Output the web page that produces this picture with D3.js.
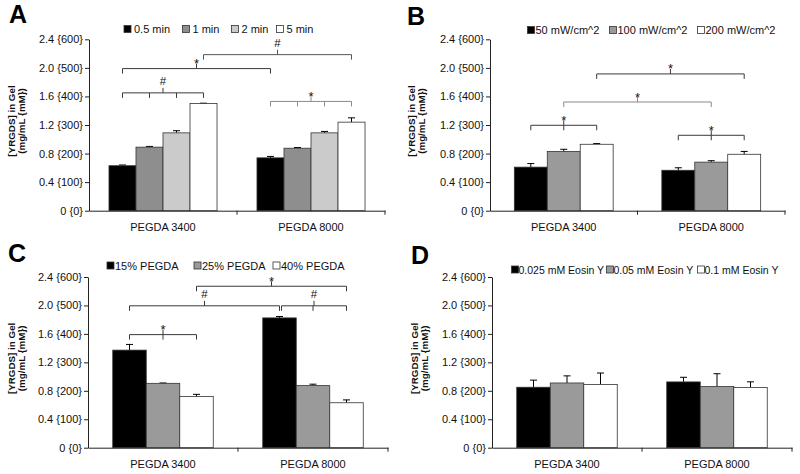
<!DOCTYPE html>
<html><head><meta charset="utf-8">
<script src="https://cdn.jsdelivr.net/npm/d3@7"></script>
<style>
html,body{margin:0;padding:0;background:#fff;}
svg{display:block;font-family:"Liberation Sans",Arial,sans-serif;}
</style></head>
<body>
<svg id="chart" width="800" height="474"></svg>
<script>
// ---------- DATA ----------
const categories = ["PEGDA 3400", "PEGDA 8000"];
const yTicks = [0, 0.4, 0.8, 1.2, 1.6, 2.0, 2.4];
const yTickLabels = ["0 {0}", "0.4 {100}", "0.8 {200}", "1.2 {300}", "1.6 {400}", "2.0 {500}", "2.4 {600}"];
const yTitle1 = "[YRGDS] in Gel";
const yTitle2 = "(mg/mL {mM})";

// Panel A: exposure time
const seriesA = ["0.5 min", "1 min", "2 min", "5 min"];
const valuesA = [[0.63, 0.74], [0.89, 0.875], [1.09, 1.09], [1.50, 1.24]];
const errorsA = [[0.01, 0.02], [0.01, 0.01], [0.03, 0.02], [0.005, 0.06]];
const bracketsA = [
  {label: "#", level: 1.65, ticks: [[0,0],[0,1],[0,2],[0,3]], tone: "dark"},
  {label: "*", level: 1.99, ticks: [[0,0],[1,0]], tone: "dark"},
  {label: "#", level: 2.185, ticks: [[0,3],[1,3]], tone: "mid"},
  {label: "*", level: 1.53, ticks: [[1,0],[1,1],[1,2],[1,3]], tone: "light"}
];

// Panel B: light intensity
const seriesB = ["50 mW/cm^2", "100 mW/cm^2", "200 mW/cm^2"];
const valuesB = [[0.61, 0.566], [0.83, 0.68], [0.93, 0.79]];
const errorsB = [[0.05, 0.035], [0.03, 0.02], [0.01, 0.04]];
const bracketsB = [
  {label: "*", level: 1.196, ticks: [[0,0],[0,1],[0,2]], tone: "dark"},
  {label: "*", level: 1.522, ticks: [[0,1],[1,1]], tone: "light"},
  {label: "*", level: 1.915, ticks: [[0,2],[1,2]], tone: "dark"},
  {label: "*", level: 1.056, ticks: [[1,0],[1,1],[1,2]], tone: "dark"}
];

// Panel C: PEGDA concentration
const seriesC = ["15% PEGDA", "25% PEGDA", "40% PEGDA"];
const valuesC = [[1.372, 1.825], [0.905, 0.873], [0.72, 0.632]];
const errorsC = [[0.08, 0.02], [0.005, 0.02], [0.03, 0.04]];
const bracketsC = [
  {label: "*", level: 1.59, ticks: [[0,0],[0,1],[0,2]], tone: "dark"},
  {label: "#", level: 1.995, ticks: [[0,0],[1,0]], tone: "dark"},
  {label: "#", level: 1.995, ticks: [[1,0],[1,1],[1,2]], tone: "dark", startOffset: 2},
  {label: "*", level: 2.27, ticks: [[0,2],[1,2]], tone: "dark"}
];

// Panel D: eosin Y concentration
const seriesD = ["0.025 mM Eosin Y", "0.05 mM Eosin Y", "0.1 mM Eosin Y"];
const valuesD = [[0.85, 0.925], [0.91, 0.86], [0.89, 0.846]];
const errorsD = [[0.10, 0.065], [0.10, 0.18], [0.16, 0.08]];
const bracketsD = [];

const fills4 = ["#000000", "#8e8e8e", "#cbcbcb", "#ffffff"];
const fills3 = ["#000000", "#9a9a9a", "#ffffff"];
const tones = {dark: "#3a3a3a", mid: "#555555", light: "#8a8a8a"};

// ---------- LAYOUT ----------
const panels = [
  {letter: "A", series: seriesA, values: valuesA, errors: errorsA, brackets: bracketsA, fills: fills4,
   x0: 89, x1: 385, yTop: 39.3, yBot: 210.7, pad: 0.27, letterX: 9, letterY: 23,
   legendY: 29, legendX: [124, 182.5, 231.5, 276.5], legendGap: 10, legendFont: 11,
   titleX: 15, catY: 231.5},
  {letter: "B", series: seriesB, values: valuesB, errors: errorsB, brackets: bracketsB, fills: fills3,
   x0: 490, x1: 785, yTop: 39.3, yBot: 210.7, pad: 0.33, letterX: 407, letterY: 25,
   legendY: 30, legendX: [527.5, 609.5, 697.5], legendGap: 8, legendFont: 11,
   titleX: 415, catY: 231.5},
  {letter: "C", series: seriesC, values: valuesC, errors: errorsC, brackets: bracketsC, fills: fills3,
   x0: 88, x1: 388, yTop: 277, yBot: 447.7, pad: 0.33, letterX: 8, letterY: 262,
   legendY: 265.5, legendX: [107, 194, 273], legendGap: 8, legendFont: 11,
   titleX: 15, catY: 468.5},
  {letter: "D", series: seriesD, values: valuesD, errors: errorsD, brackets: bracketsD, fills: fills3,
   x0: 492, x1: 792, yTop: 277, yBot: 447.7, pad: 0.33, letterX: 411, letterY: 264,
   legendY: 269.5, legendX: [511.5, 606.5, 697.5], legendGap: 7, legendFont: 10.5,
   titleX: 418, catY: 468.5}
];

const svg = d3.select("#chart");

panels.forEach(p => {
  const g = svg.append("g");
  const y = d3.scaleLinear().domain([0, 2.4]).range([p.yBot, p.yTop]);
  const x = d3.scaleBand().domain(categories).range([p.x0, p.x1]).paddingInner(0).paddingOuter(0);
  const groupW = x.bandwidth() * (1 - p.pad);
  const xs = d3.scaleBand().domain(p.series).range([0, groupW]).padding(0);
  const barX = (ci, si) => x(categories[ci]) + (x.bandwidth() - groupW) / 2 + xs(p.series[si]);
  const barC = (ci, si) => barX(ci, si) + xs.bandwidth() / 2;

  // bars
  p.series.forEach((s, si) => {
    const data = categories.map((c, ci) => ({ci, v: p.values[si][ci], e: p.errors[si][ci]}));
    data.forEach(d => {
      const cx = barC(d.ci, si);
      g.append("line").attr("x1", cx).attr("x2", cx)
        .attr("y1", y(d.v)).attr("y2", y(d.v + d.e)).attr("stroke", "#000").attr("stroke-width", 1);
      g.append("line").attr("x1", cx - 3.5).attr("x2", cx + 3.5)
        .attr("y1", y(d.v + d.e)).attr("y2", y(d.v + d.e)).attr("stroke", "#000").attr("stroke-width", 1);
    });
    g.selectAll(null).data(data).enter().append("rect")
      .attr("x", d => barX(d.ci, si))
      .attr("y", d => y(d.v))
      .attr("width", xs.bandwidth())
      .attr("height", d => y(0) - y(d.v))
      .attr("fill", p.fills[si])
      .attr("stroke", "#333")
      .attr("stroke-width", 0.8);
  });

  // y axis
  const yAxis = d3.axisLeft(y).tickValues(yTicks)
    .tickFormat((d, i) => yTickLabels[i]).tickSize(4).tickSizeOuter(0).tickPadding(2);
  const ya = g.append("g").attr("transform", `translate(${p.x0},0)`).call(yAxis);
  ya.select(".domain").attr("stroke", "#222");
  ya.selectAll(".tick line").attr("stroke", "#222");
  ya.selectAll("text").attr("font-size", 11).attr("fill", "#111")
    .attr("font-family", "'Liberation Sans', Arial, sans-serif");

  // x axis
  const xAxis = d3.axisBottom(x).tickSize(0).tickSizeOuter(0).tickPadding(0);
  const xa = g.append("g").attr("transform", `translate(0,${p.yBot})`).call(xAxis);
  xa.select(".domain").attr("stroke", "#222");
  xa.selectAll("text").attr("font-size", 11).attr("fill", "#111")
    .attr("dy", null).attr("y", p.catY - p.yBot)
    .attr("font-family", "'Liberation Sans', Arial, sans-serif");
  const bounds = [x(categories[1]), x(categories[1]) + x.bandwidth()];
  bounds.forEach(bx => {
    g.append("line").attr("x1", bx).attr("x2", bx).attr("y1", p.yBot).attr("y2", p.yBot + 4)
      .attr("stroke", "#222");
  });

  // y title
  const ymid = (p.yTop + p.yBot) / 2 - 4;
  g.append("text").attr("transform", `translate(${p.titleX},${ymid}) rotate(-90)`)
    .attr("text-anchor", "middle").attr("font-weight", "bold").attr("font-size", 9.8)
    .attr("fill", "#111").text(yTitle1);
  g.append("text").attr("transform", `translate(${p.titleX + 10},${ymid}) rotate(-90)`)
    .attr("text-anchor", "middle").attr("font-weight", "bold").attr("font-size", 9.8)
    .attr("fill", "#111").text(yTitle2);

  // panel letter
  g.append("text").attr("x", p.letterX).attr("y", p.letterY)
    .attr("font-weight", "bold").attr("font-size", 25).attr("fill", "#000").text(p.letter);

  // legend
  p.series.forEach((s, si) => {
    const lx = p.legendX[si];
    g.append("rect").attr("x", lx).attr("y", p.legendY - 3.5).attr("width", 7).attr("height", 7)
      .attr("fill", p.fills[si]).attr("stroke", "#333").attr("stroke-width", 0.8);
    g.append("text").attr("x", lx + p.legendGap).attr("y", p.legendY + 4)
      .attr("font-size", p.legendFont).attr("fill", "#111").text(s);
  });

  // significance brackets
  p.brackets.forEach(b => {
    const col = tones[b.tone];
    const xsPos = b.ticks.map(t => barC(t[0], t[1]));
    if (b.startOffset) xsPos[0] += b.startOffset;
    const by = y(b.level);
    const xa0 = d3.min(xsPos), xa1 = d3.max(xsPos);
    const mid = (xa0 + xa1) / 2;
    g.append("line").attr("x1", xa0).attr("x2", xa1).attr("y1", by).attr("y2", by)
      .attr("stroke", col).attr("stroke-width", 1);
    xsPos.forEach(tx => {
      g.append("line").attr("x1", tx).attr("x2", tx).attr("y1", by).attr("y2", by + 5)
        .attr("stroke", col).attr("stroke-width", 1);
    });
    g.append("line").attr("x1", mid).attr("x2", mid).attr("y1", by).attr("y2", by - 5)
      .attr("stroke", col).attr("stroke-width", 1);
    g.append("text").attr("x", mid).attr("y", b.label === "#" ? by - 8 : by - 0.5)
      .attr("text-anchor", "middle").attr("font-size", b.label === "#" ? 11.5 : 13)
      .attr("fill", "#111").text(b.label);
  });
});
</script>
</body></html>
